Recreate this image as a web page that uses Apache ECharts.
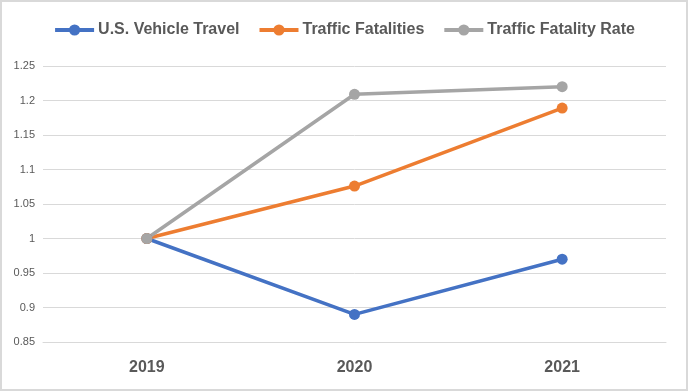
<!DOCTYPE html>
<html><head><meta charset="utf-8">
<script src="https://cdn.jsdelivr.net/npm/echarts@6/dist/echarts.min.js"></script>
<style>
html,body{margin:0;padding:0;background:#fff;}
#c{width:688px;height:391px;box-sizing:border-box;border:2px solid #d9d9d9;}
</style></head><body>
<div id="c"></div>
<script>
const categories = ['2019','2020','2021'];
const vehicleTravel = [1, 0.89, 0.97];
const trafficFatalities = [1, 1.076, 1.189];
const fatalityRate = [1, 1.209, 1.22];
const yTicks = [0.85, 1.25, 0.05];

const chart = echarts.init(document.getElementById('c'), null, {renderer:'canvas'});
const font = '"Liberation Sans Narrow", "Liberation Sans", sans-serif';
function ser(name, data, color){
  return {name, type:'line', data, symbol:'circle', symbolSize:11,
    lineStyle:{width:3.5, color}, itemStyle:{color}, z: 2};
}
chart.setOption({
  animation:false,
  legend:{
    top:15, left:'center', itemWidth:39, itemHeight:14, itemGap:18,
    lineStyle:{width:4},
    itemStyle:{borderWidth:0},
    textStyle:{fontFamily:font, fontWeight:'bold', fontSize:16, color:'#595959', padding:[0,0,0,-1]},
    data:['U.S. Vehicle Travel','Traffic Fatalities','Traffic Fatality Rate']
  },
  grid:{left:41, right:20, top:64, bottom:47, containLabel:false},
  xAxis:{type:'category', data:categories, boundaryGap:true,
    axisLine:{lineStyle:{color:'#d9d9d9', width:1}}, axisTick:{show:false},
    axisLabel:{fontFamily:font, fontWeight:'bold', fontSize:16, color:'#595959', margin:18}},
  yAxis:{type:'value', min:yTicks[0], max:yTicks[1], interval:yTicks[2],
    axisLine:{show:false}, axisTick:{show:false},
    splitLine:{lineStyle:{color:'#d9d9d9', width:1}},
    axisLabel:{fontFamily:font, fontSize:11, color:'#595959', margin:8,
      formatter:v=>String(parseFloat(v.toFixed(2)))}},
  series:[
    ser('U.S. Vehicle Travel', vehicleTravel, '#4472c4'),
    ser('Traffic Fatalities', trafficFatalities, '#ed7d31'),
    ser('Traffic Fatality Rate', fatalityRate, '#a5a5a5')
  ]
});
</script></body></html>
